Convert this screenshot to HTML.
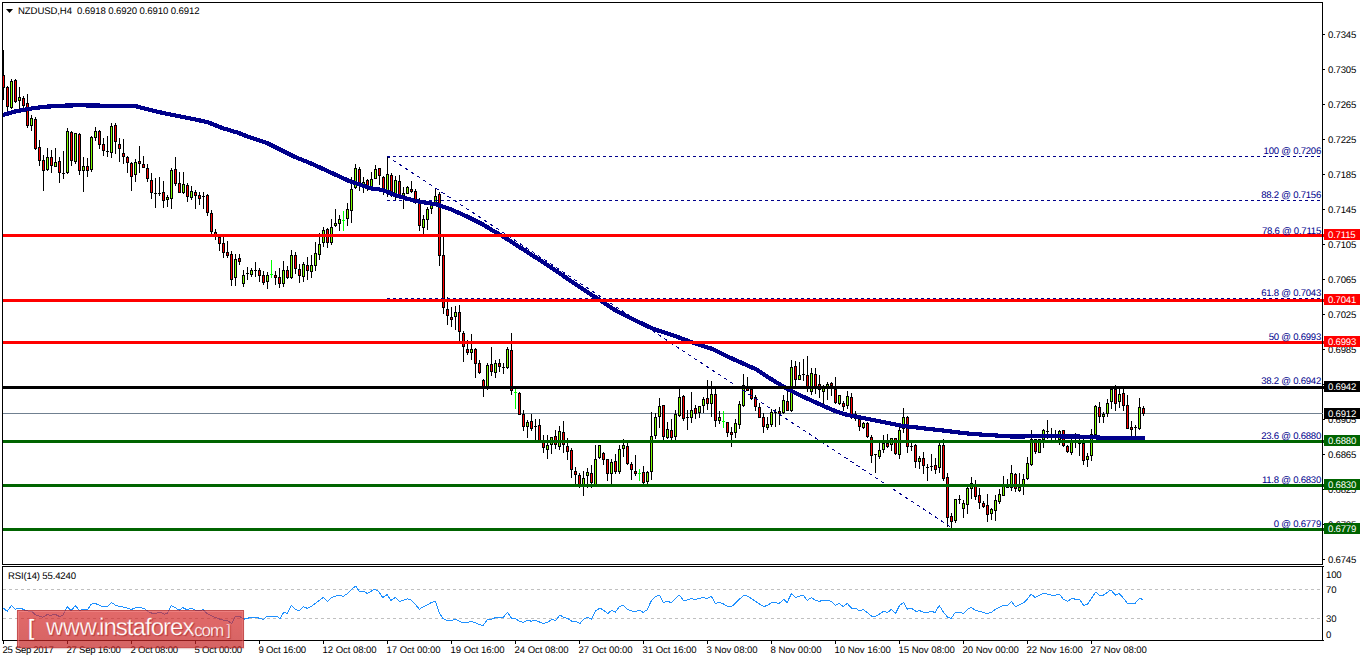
<!DOCTYPE html><html><head><meta charset="utf-8"><title>NZDUSD H4</title><style>
html,body{margin:0;padding:0;background:#fff}
body{width:1362px;height:661px;position:relative;overflow:hidden;font-family:"Liberation Sans",sans-serif;font-size:9.6px;color:#000;text-rendering:geometricPrecision}
svg{position:absolute;left:0;top:0}
.t{position:absolute;white-space:nowrap;line-height:10px;height:10px}
.ax{left:1328px;letter-spacing:-0.2px}
.fib{color:#00008b;right:41px;text-align:right;letter-spacing:-0.25px}
.tag{position:absolute;left:1324px;width:36px;height:11px;color:#fff}
.tag span{position:absolute;left:4px;top:2px;line-height:10px;letter-spacing:-0.2px}
.dt{top:646px;letter-spacing:-0.35px}
#wm{position:absolute;left:17px;top:610px;width:227px;height:38px;box-sizing:border-box;background:linear-gradient(rgba(214,42,42,.7),rgba(196,34,34,.7));border:1px solid rgba(150,30,30,.3);box-shadow:inset 1px 1px 0 rgba(255,170,170,.35),inset -1px 0 0 rgba(255,170,170,.2),0 1px 1px rgba(160,60,60,.25)}
#wm span{position:absolute;color:#fff;white-space:nowrap;text-shadow:1px 1px 1px rgba(150,20,25,.55);-webkit-text-stroke:0.3px #dd6868}

</style></head><body>
<svg width="1362" height="661" viewBox="0 0 1362 661" shape-rendering="crispEdges"><rect x="3" y="413" width="1319" height="1" fill="#708090"/><g fill="#000"><rect x="3" y="50" width="1" height="50"/><rect x="2" y="75" width="3" height="13"/><rect x="3" y="76" width="1" height="11" fill="#ff0000"/><rect x="7" y="86" width="1" height="30"/><rect x="6" y="87" width="3" height="20"/><rect x="7" y="88" width="1" height="18" fill="#ff0000"/><rect x="11" y="79" width="1" height="30"/><rect x="10" y="81" width="3" height="27"/><rect x="11" y="82" width="1" height="25" fill="#7fff00"/><rect x="15" y="79" width="1" height="24"/><rect x="14" y="80" width="3" height="22"/><rect x="15" y="81" width="1" height="20" fill="#ff0000"/><rect x="19" y="87" width="1" height="23"/><rect x="18" y="97" width="3" height="4"/><rect x="19" y="98" width="1" height="2" fill="#7fff00"/><rect x="23" y="96" width="1" height="12"/><rect x="22" y="98" width="3" height="8"/><rect x="23" y="99" width="1" height="6" fill="#ff0000"/><rect x="27" y="94" width="1" height="34"/><rect x="26" y="103" width="3" height="23"/><rect x="27" y="104" width="1" height="21" fill="#ff0000"/><rect x="31" y="115" width="1" height="16"/><rect x="30" y="118" width="3" height="8"/><rect x="31" y="119" width="1" height="6" fill="#7fff00"/><rect x="35" y="117" width="1" height="33"/><rect x="34" y="119" width="3" height="30"/><rect x="35" y="120" width="1" height="28" fill="#ff0000"/><rect x="39" y="140" width="1" height="26"/><rect x="38" y="147" width="3" height="14"/><rect x="39" y="148" width="1" height="12" fill="#ff0000"/><rect x="43" y="155" width="1" height="36"/><rect x="42" y="160" width="3" height="11"/><rect x="43" y="161" width="1" height="9" fill="#ff0000"/><rect x="47" y="148" width="1" height="23"/><rect x="46" y="157" width="3" height="13"/><rect x="47" y="158" width="1" height="11" fill="#7fff00"/><rect x="51" y="150" width="1" height="23"/><rect x="50" y="157" width="3" height="9"/><rect x="51" y="158" width="1" height="7" fill="#ff0000"/><rect x="55" y="148" width="1" height="19"/><rect x="54" y="162" width="3" height="5"/><rect x="55" y="163" width="1" height="3" fill="#7fff00"/><rect x="59" y="157" width="1" height="26"/><rect x="58" y="161" width="3" height="12"/><rect x="59" y="162" width="1" height="10" fill="#ff0000"/><rect x="63" y="151" width="1" height="28"/><rect x="62" y="173" width="3" height="1"/><rect x="67" y="128" width="1" height="46"/><rect x="66" y="131" width="3" height="42"/><rect x="67" y="132" width="1" height="40" fill="#7fff00"/><rect x="71" y="131" width="1" height="35"/><rect x="70" y="132" width="3" height="29"/><rect x="71" y="133" width="1" height="27" fill="#ff0000"/><rect x="75" y="133" width="1" height="31"/><rect x="74" y="133" width="3" height="29"/><rect x="75" y="134" width="1" height="27" fill="#7fff00"/><rect x="79" y="133" width="1" height="42"/><rect x="78" y="134" width="3" height="37"/><rect x="79" y="135" width="1" height="35" fill="#ff0000"/><rect x="83" y="157" width="1" height="35"/><rect x="82" y="166" width="3" height="5"/><rect x="83" y="167" width="1" height="3" fill="#7fff00"/><rect x="87" y="158" width="1" height="19"/><rect x="86" y="166" width="3" height="5"/><rect x="87" y="167" width="1" height="3" fill="#ff0000"/><rect x="91" y="136" width="1" height="36"/><rect x="90" y="137" width="3" height="33"/><rect x="91" y="138" width="1" height="31" fill="#7fff00"/><rect x="95" y="127" width="1" height="14"/><rect x="94" y="131" width="3" height="7"/><rect x="95" y="132" width="1" height="5" fill="#7fff00"/><rect x="99" y="130" width="1" height="19"/><rect x="98" y="131" width="3" height="14"/><rect x="99" y="132" width="1" height="12" fill="#ff0000"/><rect x="103" y="138" width="1" height="18"/><rect x="102" y="144" width="3" height="7"/><rect x="103" y="145" width="1" height="5" fill="#ff0000"/><rect x="107" y="136" width="1" height="21"/><rect x="106" y="151" width="3" height="1"/><rect x="111" y="123" width="1" height="35"/><rect x="110" y="126" width="3" height="27"/><rect x="111" y="127" width="1" height="25" fill="#7fff00"/><rect x="115" y="123" width="1" height="31"/><rect x="114" y="125" width="3" height="17"/><rect x="115" y="126" width="1" height="15" fill="#ff0000"/><rect x="119" y="138" width="1" height="24"/><rect x="118" y="144" width="3" height="5"/><rect x="119" y="145" width="1" height="3" fill="#ff0000"/><rect x="123" y="139" width="1" height="25"/><rect x="122" y="153" width="3" height="4"/><rect x="123" y="154" width="1" height="2" fill="#ff0000"/><rect x="127" y="156" width="1" height="17"/><rect x="126" y="157" width="3" height="6"/><rect x="127" y="158" width="1" height="4" fill="#ff0000"/><rect x="131" y="162" width="1" height="29"/><rect x="130" y="163" width="3" height="14"/><rect x="131" y="164" width="1" height="12" fill="#ff0000"/><rect x="135" y="159" width="1" height="23"/><rect x="134" y="162" width="3" height="13"/><rect x="135" y="163" width="1" height="11" fill="#7fff00"/><rect x="139" y="146" width="1" height="27"/><rect x="138" y="161" width="3" height="3"/><rect x="139" y="162" width="1" height="1" fill="#ff0000"/><rect x="143" y="156" width="1" height="12"/><rect x="142" y="164" width="3" height="4"/><rect x="143" y="165" width="1" height="2" fill="#ff0000"/><rect x="147" y="164" width="1" height="18"/><rect x="146" y="168" width="3" height="11"/><rect x="147" y="169" width="1" height="9" fill="#ff0000"/><rect x="151" y="173" width="1" height="26"/><rect x="150" y="180" width="3" height="13"/><rect x="151" y="181" width="1" height="11" fill="#ff0000"/><rect x="155" y="178" width="1" height="30"/><rect x="154" y="193" width="3" height="1"/><rect x="159" y="177" width="1" height="19"/><rect x="158" y="193" width="3" height="1"/><rect x="163" y="181" width="1" height="27"/><rect x="162" y="192" width="3" height="9"/><rect x="163" y="193" width="1" height="7" fill="#ff0000"/><rect x="167" y="195" width="1" height="12"/><rect x="166" y="197" width="3" height="3"/><rect x="167" y="198" width="1" height="1" fill="#7fff00"/><rect x="171" y="168" width="1" height="41"/><rect x="170" y="170" width="3" height="29"/><rect x="171" y="171" width="1" height="27" fill="#7fff00"/><rect x="175" y="157" width="1" height="29"/><rect x="174" y="169" width="3" height="15"/><rect x="175" y="170" width="1" height="13" fill="#ff0000"/><rect x="179" y="172" width="1" height="21"/><rect x="178" y="183" width="3" height="10"/><rect x="179" y="184" width="1" height="8" fill="#ff0000"/><rect x="183" y="172" width="1" height="22"/><rect x="182" y="184" width="3" height="9"/><rect x="183" y="185" width="1" height="7" fill="#7fff00"/><rect x="187" y="183" width="1" height="19"/><rect x="186" y="185" width="3" height="12"/><rect x="187" y="186" width="1" height="10" fill="#ff0000"/><rect x="191" y="186" width="1" height="14"/><rect x="190" y="191" width="3" height="7"/><rect x="191" y="192" width="1" height="5" fill="#7fff00"/><rect x="195" y="190" width="1" height="19"/><rect x="194" y="192" width="3" height="4"/><rect x="195" y="193" width="1" height="2" fill="#ff0000"/><rect x="199" y="192" width="1" height="13"/><rect x="198" y="195" width="3" height="4"/><rect x="199" y="196" width="1" height="2" fill="#ff0000"/><rect x="203" y="192" width="1" height="17"/><rect x="202" y="196" width="3" height="1"/><rect x="207" y="194" width="1" height="22"/><rect x="206" y="195" width="3" height="18"/><rect x="207" y="196" width="1" height="16" fill="#ff0000"/><rect x="211" y="210" width="1" height="24"/><rect x="210" y="213" width="3" height="19"/><rect x="211" y="214" width="1" height="17" fill="#ff0000"/><rect x="215" y="229" width="1" height="11"/><rect x="214" y="232" width="3" height="3"/><rect x="215" y="233" width="1" height="1" fill="#ff0000"/><rect x="219" y="234" width="1" height="17"/><rect x="218" y="237" width="3" height="7"/><rect x="219" y="238" width="1" height="5" fill="#ff0000"/><rect x="223" y="237" width="1" height="21"/><rect x="222" y="243" width="3" height="10"/><rect x="223" y="244" width="1" height="8" fill="#ff0000"/><rect x="227" y="241" width="1" height="17"/><rect x="226" y="252" width="3" height="4"/><rect x="227" y="253" width="1" height="2" fill="#ff0000"/><rect x="231" y="251" width="1" height="35"/><rect x="230" y="254" width="3" height="26"/><rect x="231" y="255" width="1" height="24" fill="#ff0000"/><rect x="235" y="254" width="1" height="32"/><rect x="234" y="259" width="3" height="19"/><rect x="235" y="260" width="1" height="17" fill="#7fff00"/><rect x="239" y="254" width="1" height="11"/><rect x="238" y="258" width="3" height="4"/><rect x="239" y="259" width="1" height="2" fill="#ff0000"/><rect x="243" y="270" width="1" height="17"/><rect x="242" y="275" width="3" height="9"/><rect x="243" y="276" width="1" height="7" fill="#7fff00"/><rect x="247" y="267" width="1" height="13"/><rect x="246" y="273" width="3" height="1"/><rect x="251" y="268" width="1" height="9"/><rect x="250" y="270" width="3" height="5"/><rect x="251" y="271" width="1" height="3" fill="#7fff00"/><rect x="255" y="262" width="1" height="15"/><rect x="254" y="270" width="3" height="1"/><rect x="259" y="268" width="1" height="14"/><rect x="258" y="270" width="3" height="6"/><rect x="259" y="271" width="1" height="4" fill="#ff0000"/><rect x="263" y="271" width="1" height="14"/><rect x="262" y="275" width="3" height="8"/><rect x="263" y="276" width="1" height="6" fill="#ff0000"/><rect x="267" y="272" width="1" height="17"/><rect x="266" y="275" width="3" height="7"/><rect x="267" y="276" width="1" height="5" fill="#7fff00"/><rect x="271" y="260" width="1" height="18" fill="#00ff00"/><rect x="270" y="274" width="3" height="1" fill="#00ff00"/><rect x="275" y="271" width="1" height="14"/><rect x="274" y="275" width="3" height="3"/><rect x="275" y="276" width="1" height="1" fill="#ff0000"/><rect x="279" y="268" width="1" height="20"/><rect x="278" y="277" width="3" height="7"/><rect x="279" y="278" width="1" height="5" fill="#ff0000"/><rect x="283" y="261" width="1" height="26"/><rect x="282" y="270" width="3" height="14"/><rect x="283" y="271" width="1" height="12" fill="#7fff00"/><rect x="287" y="266" width="1" height="13"/><rect x="286" y="270" width="3" height="8"/><rect x="287" y="271" width="1" height="6" fill="#ff0000"/><rect x="291" y="250" width="1" height="29"/><rect x="290" y="255" width="3" height="23"/><rect x="291" y="256" width="1" height="21" fill="#7fff00"/><rect x="295" y="252" width="1" height="22"/><rect x="294" y="255" width="3" height="14"/><rect x="295" y="256" width="1" height="12" fill="#ff0000"/><rect x="299" y="264" width="1" height="19"/><rect x="298" y="269" width="3" height="7"/><rect x="299" y="270" width="1" height="5" fill="#ff0000"/><rect x="303" y="262" width="1" height="20"/><rect x="302" y="264" width="3" height="13"/><rect x="303" y="265" width="1" height="11" fill="#7fff00"/><rect x="307" y="257" width="1" height="23"/><rect x="306" y="265" width="3" height="6"/><rect x="307" y="266" width="1" height="4" fill="#ff0000"/><rect x="311" y="255" width="1" height="23"/><rect x="310" y="265" width="3" height="7"/><rect x="311" y="266" width="1" height="5" fill="#7fff00"/><rect x="315" y="242" width="1" height="29"/><rect x="314" y="253" width="3" height="13"/><rect x="315" y="254" width="1" height="11" fill="#7fff00"/><rect x="319" y="233" width="1" height="27"/><rect x="318" y="244" width="3" height="11"/><rect x="319" y="245" width="1" height="9" fill="#7fff00"/><rect x="323" y="227" width="1" height="20"/><rect x="322" y="230" width="3" height="13"/><rect x="323" y="231" width="1" height="11" fill="#7fff00"/><rect x="327" y="228" width="1" height="20"/><rect x="326" y="229" width="3" height="14"/><rect x="327" y="230" width="1" height="12" fill="#ff0000"/><rect x="331" y="219" width="1" height="26"/><rect x="330" y="227" width="3" height="16"/><rect x="331" y="228" width="1" height="14" fill="#7fff00"/><rect x="335" y="209" width="1" height="18"/><rect x="334" y="223" width="3" height="3"/><rect x="335" y="224" width="1" height="1" fill="#7fff00"/><rect x="339" y="215" width="1" height="16"/><rect x="338" y="219" width="3" height="5"/><rect x="339" y="220" width="1" height="3" fill="#7fff00"/><rect x="343" y="211" width="1" height="20" fill="#00ff00"/><rect x="342" y="220" width="3" height="1" fill="#00ff00"/><rect x="347" y="203" width="1" height="23"/><rect x="346" y="209" width="3" height="10"/><rect x="347" y="210" width="1" height="8" fill="#7fff00"/><rect x="351" y="177" width="1" height="46"/><rect x="350" y="189" width="3" height="22"/><rect x="351" y="190" width="1" height="20" fill="#7fff00"/><rect x="355" y="164" width="1" height="25"/><rect x="354" y="168" width="3" height="20"/><rect x="355" y="169" width="1" height="18" fill="#7fff00"/><rect x="359" y="167" width="1" height="24"/><rect x="358" y="169" width="3" height="14"/><rect x="359" y="170" width="1" height="12" fill="#ff0000"/><rect x="363" y="177" width="1" height="16"/><rect x="362" y="182" width="3" height="5"/><rect x="363" y="183" width="1" height="3" fill="#7fff00"/><rect x="367" y="179" width="1" height="12"/><rect x="366" y="180" width="3" height="7"/><rect x="367" y="181" width="1" height="5" fill="#ff0000"/><rect x="371" y="172" width="1" height="15"/><rect x="370" y="179" width="3" height="8"/><rect x="371" y="180" width="1" height="6" fill="#7fff00"/><rect x="375" y="165" width="1" height="14"/><rect x="374" y="169" width="3" height="10"/><rect x="375" y="170" width="1" height="8" fill="#7fff00"/><rect x="379" y="168" width="1" height="17"/><rect x="378" y="168" width="3" height="8"/><rect x="379" y="169" width="1" height="6" fill="#ff0000"/><rect x="383" y="176" width="1" height="19"/><rect x="382" y="177" width="3" height="14"/><rect x="383" y="178" width="1" height="12" fill="#ff0000"/><rect x="387" y="157" width="1" height="40"/><rect x="386" y="174" width="3" height="17"/><rect x="387" y="175" width="1" height="15" fill="#7fff00"/><rect x="391" y="173" width="1" height="24"/><rect x="390" y="175" width="3" height="20"/><rect x="391" y="176" width="1" height="18" fill="#ff0000"/><rect x="395" y="176" width="1" height="24"/><rect x="394" y="180" width="3" height="14"/><rect x="395" y="181" width="1" height="12" fill="#7fff00"/><rect x="399" y="175" width="1" height="21"/><rect x="398" y="181" width="3" height="14"/><rect x="399" y="182" width="1" height="12" fill="#ff0000"/><rect x="403" y="187" width="1" height="22"/><rect x="402" y="193" width="3" height="3"/><rect x="403" y="194" width="1" height="1" fill="#7fff00"/><rect x="407" y="186" width="1" height="8"/><rect x="406" y="187" width="3" height="7"/><rect x="407" y="188" width="1" height="5" fill="#7fff00"/><rect x="411" y="181" width="1" height="12"/><rect x="410" y="189" width="3" height="3"/><rect x="411" y="190" width="1" height="1" fill="#ff0000"/><rect x="415" y="189" width="1" height="15"/><rect x="414" y="191" width="3" height="12"/><rect x="415" y="192" width="1" height="10" fill="#ff0000"/><rect x="419" y="198" width="1" height="33"/><rect x="418" y="200" width="3" height="26"/><rect x="419" y="201" width="1" height="24" fill="#ff0000"/><rect x="423" y="215" width="1" height="19"/><rect x="422" y="219" width="3" height="9"/><rect x="423" y="220" width="1" height="7" fill="#7fff00"/><rect x="427" y="207" width="1" height="23"/><rect x="426" y="209" width="3" height="11"/><rect x="427" y="210" width="1" height="9" fill="#7fff00"/><rect x="431" y="200" width="1" height="14"/><rect x="430" y="205" width="3" height="4"/><rect x="431" y="206" width="1" height="2" fill="#7fff00"/><rect x="435" y="189" width="1" height="16"/><rect x="434" y="196" width="3" height="7"/><rect x="435" y="197" width="1" height="5" fill="#7fff00"/><rect x="439" y="192" width="1" height="74"/><rect x="438" y="194" width="3" height="62"/><rect x="439" y="195" width="1" height="60" fill="#ff0000"/><rect x="443" y="237" width="1" height="77"/><rect x="442" y="255" width="3" height="53"/><rect x="443" y="256" width="1" height="51" fill="#ff0000"/><rect x="447" y="297" width="1" height="28"/><rect x="446" y="309" width="3" height="7"/><rect x="447" y="310" width="1" height="5" fill="#ff0000"/><rect x="451" y="307" width="1" height="20"/><rect x="450" y="317" width="3" height="3"/><rect x="451" y="318" width="1" height="1" fill="#ff0000"/><rect x="455" y="306" width="1" height="24"/><rect x="454" y="312" width="3" height="5"/><rect x="455" y="313" width="1" height="3" fill="#7fff00"/><rect x="459" y="305" width="1" height="36"/><rect x="458" y="312" width="3" height="20"/><rect x="459" y="313" width="1" height="18" fill="#ff0000"/><rect x="463" y="331" width="1" height="31"/><rect x="462" y="333" width="3" height="14"/><rect x="463" y="334" width="1" height="12" fill="#ff0000"/><rect x="467" y="340" width="1" height="15"/><rect x="466" y="349" width="3" height="4"/><rect x="467" y="350" width="1" height="2" fill="#ff0000"/><rect x="471" y="334" width="1" height="26"/><rect x="470" y="349" width="3" height="4"/><rect x="471" y="350" width="1" height="2" fill="#7fff00"/><rect x="475" y="348" width="1" height="30"/><rect x="474" y="349" width="3" height="15"/><rect x="475" y="350" width="1" height="13" fill="#ff0000"/><rect x="479" y="360" width="1" height="14"/><rect x="478" y="363" width="3" height="10"/><rect x="479" y="364" width="1" height="8" fill="#ff0000"/><rect x="483" y="379" width="1" height="18"/><rect x="482" y="380" width="3" height="8"/><rect x="483" y="381" width="1" height="6" fill="#ff0000"/><rect x="487" y="363" width="1" height="27"/><rect x="486" y="365" width="3" height="23"/><rect x="487" y="366" width="1" height="21" fill="#7fff00"/><rect x="491" y="347" width="1" height="29"/><rect x="490" y="364" width="3" height="8"/><rect x="491" y="365" width="1" height="6" fill="#ff0000"/><rect x="495" y="360" width="1" height="18"/><rect x="494" y="363" width="3" height="10"/><rect x="495" y="364" width="1" height="8" fill="#7fff00"/><rect x="499" y="359" width="1" height="13"/><rect x="498" y="363" width="3" height="4"/><rect x="499" y="364" width="1" height="2" fill="#ff0000"/><rect x="503" y="363" width="1" height="11"/><rect x="502" y="367" width="3" height="1"/><rect x="507" y="347" width="1" height="22"/><rect x="506" y="349" width="3" height="19"/><rect x="507" y="350" width="1" height="17" fill="#7fff00"/><rect x="511" y="333" width="1" height="62"/><rect x="510" y="350" width="3" height="41"/><rect x="511" y="351" width="1" height="39" fill="#ff0000"/><rect x="515" y="389" width="1" height="20" fill="#00ff00"/><rect x="514" y="392" width="3" height="1" fill="#00ff00"/><rect x="519" y="392" width="1" height="23"/><rect x="518" y="393" width="3" height="22"/><rect x="519" y="394" width="1" height="20" fill="#ff0000"/><rect x="523" y="410" width="1" height="21"/><rect x="522" y="414" width="3" height="13"/><rect x="523" y="415" width="1" height="11" fill="#ff0000"/><rect x="527" y="420" width="1" height="18"/><rect x="526" y="422" width="3" height="5"/><rect x="527" y="423" width="1" height="3" fill="#7fff00"/><rect x="531" y="414" width="1" height="17"/><rect x="530" y="421" width="3" height="8"/><rect x="531" y="422" width="1" height="6" fill="#ff0000"/><rect x="535" y="419" width="1" height="21"/><rect x="534" y="426" width="3" height="1"/><rect x="539" y="419" width="1" height="22"/><rect x="538" y="425" width="3" height="16"/><rect x="539" y="426" width="1" height="14" fill="#ff0000"/><rect x="543" y="435" width="1" height="18"/><rect x="542" y="440" width="3" height="8"/><rect x="543" y="441" width="1" height="6" fill="#ff0000"/><rect x="547" y="435" width="1" height="24"/><rect x="546" y="445" width="3" height="5"/><rect x="547" y="446" width="1" height="3" fill="#7fff00"/><rect x="551" y="437" width="1" height="17"/><rect x="550" y="437" width="3" height="8"/><rect x="551" y="438" width="1" height="6" fill="#7fff00"/><rect x="555" y="430" width="1" height="19"/><rect x="554" y="436" width="3" height="9"/><rect x="555" y="437" width="1" height="7" fill="#ff0000"/><rect x="559" y="426" width="1" height="24"/><rect x="558" y="431" width="3" height="16"/><rect x="559" y="432" width="1" height="14" fill="#7fff00"/><rect x="563" y="421" width="1" height="32"/><rect x="562" y="432" width="3" height="13"/><rect x="563" y="433" width="1" height="11" fill="#ff0000"/><rect x="567" y="438" width="1" height="22"/><rect x="566" y="446" width="3" height="6"/><rect x="567" y="447" width="1" height="4" fill="#ff0000"/><rect x="571" y="448" width="1" height="30"/><rect x="570" y="450" width="3" height="20"/><rect x="571" y="451" width="1" height="18" fill="#ff0000"/><rect x="575" y="467" width="1" height="17"/><rect x="574" y="471" width="3" height="4"/><rect x="575" y="472" width="1" height="2" fill="#ff0000"/><rect x="579" y="473" width="1" height="15"/><rect x="578" y="475" width="3" height="12"/><rect x="579" y="476" width="1" height="10" fill="#ff0000"/><rect x="583" y="471" width="1" height="25"/><rect x="582" y="478" width="3" height="8"/><rect x="583" y="479" width="1" height="6" fill="#7fff00"/><rect x="587" y="468" width="1" height="20"/><rect x="586" y="472" width="3" height="4"/><rect x="587" y="473" width="1" height="2" fill="#7fff00"/><rect x="591" y="465" width="1" height="23"/><rect x="590" y="473" width="3" height="10"/><rect x="591" y="474" width="1" height="8" fill="#ff0000"/><rect x="595" y="445" width="1" height="40"/><rect x="594" y="459" width="3" height="26"/><rect x="595" y="460" width="1" height="24" fill="#7fff00"/><rect x="599" y="445" width="1" height="14"/><rect x="598" y="445" width="3" height="13"/><rect x="599" y="446" width="1" height="11" fill="#7fff00"/><rect x="603" y="452" width="1" height="13"/><rect x="602" y="453" width="3" height="7"/><rect x="603" y="454" width="1" height="5" fill="#ff0000"/><rect x="607" y="459" width="1" height="22"/><rect x="606" y="459" width="3" height="15"/><rect x="607" y="460" width="1" height="13" fill="#ff0000"/><rect x="611" y="459" width="1" height="25"/><rect x="610" y="462" width="3" height="12"/><rect x="611" y="463" width="1" height="10" fill="#7fff00"/><rect x="615" y="454" width="1" height="20"/><rect x="614" y="461" width="3" height="11"/><rect x="615" y="462" width="1" height="9" fill="#ff0000"/><rect x="619" y="445" width="1" height="29"/><rect x="618" y="449" width="3" height="23"/><rect x="619" y="450" width="1" height="21" fill="#7fff00"/><rect x="623" y="439" width="1" height="18"/><rect x="622" y="445" width="3" height="4"/><rect x="623" y="446" width="1" height="2" fill="#7fff00"/><rect x="627" y="443" width="1" height="22"/><rect x="626" y="446" width="3" height="18"/><rect x="627" y="447" width="1" height="16" fill="#ff0000"/><rect x="631" y="462" width="1" height="18"/><rect x="630" y="464" width="3" height="6"/><rect x="631" y="465" width="1" height="4" fill="#ff0000"/><rect x="635" y="455" width="1" height="21"/><rect x="634" y="471" width="3" height="3"/><rect x="635" y="472" width="1" height="1" fill="#ff0000"/><rect x="639" y="469" width="1" height="12" fill="#00ff00"/><rect x="638" y="473" width="3" height="1" fill="#00ff00"/><rect x="643" y="466" width="1" height="18"/><rect x="642" y="472" width="3" height="11"/><rect x="643" y="473" width="1" height="9" fill="#ff0000"/><rect x="647" y="471" width="1" height="13"/><rect x="646" y="472" width="3" height="10"/><rect x="647" y="473" width="1" height="8" fill="#7fff00"/><rect x="651" y="412" width="1" height="68"/><rect x="650" y="436" width="3" height="36"/><rect x="651" y="437" width="1" height="34" fill="#7fff00"/><rect x="655" y="413" width="1" height="26"/><rect x="654" y="417" width="3" height="19"/><rect x="655" y="418" width="1" height="17" fill="#7fff00"/><rect x="659" y="398" width="1" height="30"/><rect x="658" y="406" width="3" height="11"/><rect x="659" y="407" width="1" height="9" fill="#7fff00"/><rect x="663" y="405" width="1" height="35"/><rect x="662" y="405" width="3" height="32"/><rect x="663" y="406" width="1" height="30" fill="#ff0000"/><rect x="667" y="422" width="1" height="17"/><rect x="666" y="429" width="3" height="9"/><rect x="667" y="430" width="1" height="7" fill="#7fff00"/><rect x="671" y="419" width="1" height="21"/><rect x="670" y="430" width="3" height="8"/><rect x="671" y="431" width="1" height="6" fill="#ff0000"/><rect x="675" y="410" width="1" height="30"/><rect x="674" y="414" width="3" height="23"/><rect x="675" y="415" width="1" height="21" fill="#7fff00"/><rect x="679" y="389" width="1" height="28"/><rect x="678" y="397" width="3" height="19"/><rect x="679" y="398" width="1" height="17" fill="#7fff00"/><rect x="683" y="395" width="1" height="26"/><rect x="682" y="396" width="3" height="23"/><rect x="683" y="397" width="1" height="21" fill="#ff0000"/><rect x="687" y="410" width="1" height="20"/><rect x="686" y="417" width="3" height="1"/><rect x="691" y="392" width="1" height="31"/><rect x="690" y="410" width="3" height="8"/><rect x="691" y="411" width="1" height="6" fill="#7fff00"/><rect x="695" y="405" width="1" height="14"/><rect x="694" y="408" width="3" height="6"/><rect x="695" y="409" width="1" height="4" fill="#ff0000"/><rect x="699" y="406" width="1" height="12"/><rect x="698" y="406" width="3" height="7"/><rect x="699" y="407" width="1" height="5" fill="#7fff00"/><rect x="703" y="397" width="1" height="16"/><rect x="702" y="399" width="3" height="7"/><rect x="703" y="400" width="1" height="5" fill="#7fff00"/><rect x="707" y="380" width="1" height="30"/><rect x="706" y="398" width="3" height="6"/><rect x="707" y="399" width="1" height="4" fill="#ff0000"/><rect x="711" y="381" width="1" height="36"/><rect x="710" y="394" width="3" height="10"/><rect x="711" y="395" width="1" height="8" fill="#7fff00"/><rect x="715" y="389" width="1" height="38"/><rect x="714" y="394" width="3" height="27"/><rect x="715" y="395" width="1" height="25" fill="#ff0000"/><rect x="719" y="411" width="1" height="13"/><rect x="718" y="417" width="3" height="4"/><rect x="719" y="418" width="1" height="2" fill="#7fff00"/><rect x="723" y="411" width="1" height="17" fill="#00ff00"/><rect x="722" y="421" width="3" height="1" fill="#00ff00"/><rect x="727" y="422" width="1" height="15"/><rect x="726" y="422" width="3" height="11"/><rect x="727" y="423" width="1" height="9" fill="#ff0000"/><rect x="731" y="427" width="1" height="20"/><rect x="730" y="432" width="3" height="3"/><rect x="731" y="433" width="1" height="1" fill="#ff0000"/><rect x="735" y="419" width="1" height="19"/><rect x="734" y="423" width="3" height="10"/><rect x="735" y="424" width="1" height="8" fill="#7fff00"/><rect x="739" y="401" width="1" height="28"/><rect x="738" y="404" width="3" height="21"/><rect x="739" y="405" width="1" height="19" fill="#7fff00"/><rect x="743" y="374" width="1" height="33"/><rect x="742" y="385" width="3" height="21"/><rect x="743" y="386" width="1" height="19" fill="#7fff00"/><rect x="747" y="377" width="1" height="14"/><rect x="746" y="386" width="3" height="5"/><rect x="747" y="387" width="1" height="3" fill="#ff0000"/><rect x="751" y="389" width="1" height="11"/><rect x="750" y="389" width="3" height="10"/><rect x="751" y="390" width="1" height="8" fill="#ff0000"/><rect x="755" y="395" width="1" height="16"/><rect x="754" y="397" width="3" height="10"/><rect x="755" y="398" width="1" height="8" fill="#ff0000"/><rect x="759" y="403" width="1" height="15"/><rect x="758" y="407" width="3" height="11"/><rect x="759" y="408" width="1" height="9" fill="#ff0000"/><rect x="763" y="413" width="1" height="20"/><rect x="762" y="417" width="3" height="10"/><rect x="763" y="418" width="1" height="8" fill="#ff0000"/><rect x="767" y="417" width="1" height="13"/><rect x="766" y="424" width="3" height="4"/><rect x="767" y="425" width="1" height="2" fill="#7fff00"/><rect x="771" y="409" width="1" height="18"/><rect x="770" y="412" width="3" height="13"/><rect x="771" y="413" width="1" height="11" fill="#7fff00"/><rect x="775" y="409" width="1" height="18"/><rect x="774" y="412" width="3" height="1"/><rect x="779" y="407" width="1" height="18"/><rect x="778" y="411" width="3" height="3"/><rect x="779" y="412" width="1" height="1" fill="#ff0000"/><rect x="783" y="395" width="1" height="19"/><rect x="782" y="400" width="3" height="13"/><rect x="783" y="401" width="1" height="11" fill="#7fff00"/><rect x="787" y="390" width="1" height="21"/><rect x="786" y="401" width="3" height="10"/><rect x="787" y="402" width="1" height="8" fill="#ff0000"/><rect x="791" y="360" width="1" height="52"/><rect x="790" y="367" width="3" height="44"/><rect x="791" y="368" width="1" height="42" fill="#7fff00"/><rect x="795" y="361" width="1" height="25"/><rect x="794" y="366" width="3" height="14"/><rect x="795" y="367" width="1" height="12" fill="#ff0000"/><rect x="799" y="362" width="1" height="18"/><rect x="798" y="375" width="3" height="5"/><rect x="799" y="376" width="1" height="3" fill="#7fff00"/><rect x="803" y="359" width="1" height="22"/><rect x="802" y="374" width="3" height="1"/><rect x="807" y="356" width="1" height="36"/><rect x="806" y="375" width="3" height="14"/><rect x="807" y="376" width="1" height="12" fill="#ff0000"/><rect x="811" y="368" width="1" height="27"/><rect x="810" y="373" width="3" height="19"/><rect x="811" y="374" width="1" height="17" fill="#7fff00"/><rect x="815" y="368" width="1" height="26"/><rect x="814" y="374" width="3" height="13"/><rect x="815" y="375" width="1" height="11" fill="#ff0000"/><rect x="819" y="375" width="1" height="23"/><rect x="818" y="384" width="3" height="6"/><rect x="819" y="385" width="1" height="4" fill="#ff0000"/><rect x="823" y="385" width="1" height="19"/><rect x="822" y="386" width="3" height="6"/><rect x="823" y="387" width="1" height="4" fill="#7fff00"/><rect x="827" y="382" width="1" height="18"/><rect x="826" y="384" width="3" height="3"/><rect x="827" y="385" width="1" height="1" fill="#7fff00"/><rect x="831" y="382" width="1" height="14"/><rect x="830" y="383" width="3" height="3"/><rect x="831" y="384" width="1" height="1" fill="#ff0000"/><rect x="835" y="377" width="1" height="27"/><rect x="834" y="389" width="3" height="14"/><rect x="835" y="390" width="1" height="12" fill="#ff0000"/><rect x="839" y="395" width="1" height="10"/><rect x="838" y="395" width="3" height="9"/><rect x="839" y="396" width="1" height="7" fill="#7fff00"/><rect x="843" y="401" width="1" height="10"/><rect x="842" y="403" width="3" height="4"/><rect x="843" y="404" width="1" height="2" fill="#ff0000"/><rect x="847" y="391" width="1" height="18"/><rect x="846" y="396" width="3" height="10"/><rect x="847" y="397" width="1" height="8" fill="#7fff00"/><rect x="851" y="393" width="1" height="26"/><rect x="850" y="397" width="3" height="21"/><rect x="851" y="398" width="1" height="19" fill="#ff0000"/><rect x="855" y="411" width="1" height="10"/><rect x="854" y="414" width="3" height="5"/><rect x="855" y="415" width="1" height="3" fill="#ff0000"/><rect x="859" y="419" width="1" height="12"/><rect x="858" y="419" width="3" height="8"/><rect x="859" y="420" width="1" height="6" fill="#ff0000"/><rect x="863" y="422" width="1" height="7"/><rect x="862" y="423" width="3" height="5"/><rect x="863" y="424" width="1" height="3" fill="#7fff00"/><rect x="867" y="422" width="1" height="16"/><rect x="866" y="423" width="3" height="14"/><rect x="867" y="424" width="1" height="12" fill="#ff0000"/><rect x="871" y="435" width="1" height="28"/><rect x="870" y="437" width="3" height="19"/><rect x="871" y="438" width="1" height="17" fill="#ff0000"/><rect x="875" y="454" width="1" height="19"/><rect x="874" y="454" width="3" height="1"/><rect x="879" y="443" width="1" height="16"/><rect x="878" y="450" width="3" height="7"/><rect x="879" y="451" width="1" height="5" fill="#7fff00"/><rect x="883" y="435" width="1" height="18"/><rect x="882" y="443" width="3" height="7"/><rect x="883" y="444" width="1" height="5" fill="#7fff00"/><rect x="887" y="434" width="1" height="14"/><rect x="886" y="443" width="3" height="4"/><rect x="887" y="444" width="1" height="2" fill="#ff0000"/><rect x="891" y="438" width="1" height="13"/><rect x="890" y="438" width="3" height="7"/><rect x="891" y="439" width="1" height="5" fill="#7fff00"/><rect x="895" y="438" width="1" height="17"/><rect x="894" y="438" width="3" height="16"/><rect x="895" y="439" width="1" height="14" fill="#ff0000"/><rect x="899" y="427" width="1" height="32"/><rect x="898" y="430" width="3" height="25"/><rect x="899" y="431" width="1" height="23" fill="#7fff00"/><rect x="903" y="408" width="1" height="25"/><rect x="902" y="417" width="3" height="12"/><rect x="903" y="418" width="1" height="10" fill="#7fff00"/><rect x="907" y="416" width="1" height="37"/><rect x="906" y="417" width="3" height="30"/><rect x="907" y="418" width="1" height="28" fill="#ff0000"/><rect x="911" y="443" width="1" height="8"/><rect x="910" y="446" width="3" height="1"/><rect x="915" y="444" width="1" height="24"/><rect x="914" y="445" width="3" height="17"/><rect x="915" y="446" width="1" height="15" fill="#ff0000"/><rect x="919" y="456" width="1" height="13"/><rect x="918" y="458" width="3" height="4"/><rect x="919" y="459" width="1" height="2" fill="#7fff00"/><rect x="923" y="452" width="1" height="22"/><rect x="922" y="458" width="3" height="8"/><rect x="923" y="459" width="1" height="6" fill="#ff0000"/><rect x="927" y="464" width="1" height="17"/><rect x="926" y="467" width="3" height="1"/><rect x="931" y="454" width="1" height="17"/><rect x="930" y="466" width="3" height="1"/><rect x="935" y="458" width="1" height="16"/><rect x="934" y="465" width="3" height="5"/><rect x="935" y="466" width="1" height="3" fill="#ff0000"/><rect x="939" y="443" width="1" height="30"/><rect x="938" y="445" width="3" height="23"/><rect x="939" y="446" width="1" height="21" fill="#7fff00"/><rect x="943" y="439" width="1" height="42"/><rect x="942" y="445" width="3" height="34"/><rect x="943" y="446" width="1" height="32" fill="#ff0000"/><rect x="947" y="473" width="1" height="54"/><rect x="946" y="477" width="3" height="41"/><rect x="947" y="478" width="1" height="39" fill="#ff0000"/><rect x="951" y="513" width="1" height="15"/><rect x="950" y="516" width="3" height="6"/><rect x="951" y="517" width="1" height="4" fill="#ff0000"/><rect x="955" y="499" width="1" height="24"/><rect x="954" y="499" width="3" height="22"/><rect x="955" y="500" width="1" height="20" fill="#7fff00"/><rect x="959" y="495" width="1" height="9"/><rect x="958" y="499" width="3" height="1"/><rect x="963" y="500" width="1" height="18"/><rect x="962" y="503" width="3" height="6"/><rect x="963" y="504" width="1" height="4" fill="#7fff00"/><rect x="967" y="487" width="1" height="27"/><rect x="966" y="488" width="3" height="17"/><rect x="967" y="489" width="1" height="15" fill="#7fff00"/><rect x="971" y="477" width="1" height="22"/><rect x="970" y="483" width="3" height="6"/><rect x="971" y="484" width="1" height="4" fill="#7fff00"/><rect x="975" y="480" width="1" height="20"/><rect x="974" y="484" width="3" height="13"/><rect x="975" y="485" width="1" height="11" fill="#ff0000"/><rect x="979" y="488" width="1" height="21"/><rect x="978" y="495" width="3" height="8"/><rect x="979" y="496" width="1" height="6" fill="#ff0000"/><rect x="983" y="501" width="1" height="7"/><rect x="982" y="503" width="3" height="4"/><rect x="983" y="504" width="1" height="2" fill="#ff0000"/><rect x="987" y="494" width="1" height="28"/><rect x="986" y="505" width="3" height="10"/><rect x="987" y="506" width="1" height="8" fill="#ff0000"/><rect x="991" y="508" width="1" height="12"/><rect x="990" y="509" width="3" height="5"/><rect x="991" y="510" width="1" height="3" fill="#7fff00"/><rect x="995" y="495" width="1" height="26"/><rect x="994" y="500" width="3" height="11"/><rect x="995" y="501" width="1" height="9" fill="#7fff00"/><rect x="999" y="489" width="1" height="15"/><rect x="998" y="494" width="3" height="8"/><rect x="999" y="495" width="1" height="6" fill="#7fff00"/><rect x="1003" y="476" width="1" height="20"/><rect x="1002" y="484" width="3" height="12"/><rect x="1003" y="485" width="1" height="10" fill="#7fff00"/><rect x="1007" y="479" width="1" height="9"/><rect x="1006" y="487" width="3" height="1"/><rect x="1011" y="465" width="1" height="26"/><rect x="1010" y="473" width="3" height="15"/><rect x="1011" y="474" width="1" height="13" fill="#7fff00"/><rect x="1015" y="473" width="1" height="19"/><rect x="1014" y="474" width="3" height="15"/><rect x="1015" y="475" width="1" height="13" fill="#ff0000"/><rect x="1019" y="473" width="1" height="19"/><rect x="1018" y="487" width="3" height="4"/><rect x="1019" y="488" width="1" height="2" fill="#7fff00"/><rect x="1023" y="474" width="1" height="21"/><rect x="1022" y="479" width="3" height="8"/><rect x="1023" y="480" width="1" height="6" fill="#7fff00"/><rect x="1027" y="457" width="1" height="23"/><rect x="1026" y="463" width="3" height="16"/><rect x="1027" y="464" width="1" height="14" fill="#7fff00"/><rect x="1031" y="430" width="1" height="36"/><rect x="1030" y="439" width="3" height="26"/><rect x="1031" y="440" width="1" height="24" fill="#7fff00"/><rect x="1035" y="439" width="1" height="15"/><rect x="1034" y="439" width="3" height="13"/><rect x="1035" y="440" width="1" height="11" fill="#ff0000"/><rect x="1039" y="439" width="1" height="14"/><rect x="1038" y="439" width="3" height="14"/><rect x="1039" y="440" width="1" height="12" fill="#7fff00"/><rect x="1043" y="429" width="1" height="19"/><rect x="1042" y="430" width="3" height="10"/><rect x="1043" y="431" width="1" height="8" fill="#7fff00"/><rect x="1047" y="420" width="1" height="19"/><rect x="1046" y="431" width="3" height="1"/><rect x="1051" y="428" width="1" height="12"/><rect x="1050" y="434" width="3" height="1"/><rect x="1055" y="430" width="1" height="10"/><rect x="1054" y="436" width="3" height="1"/><rect x="1059" y="430" width="1" height="15"/><rect x="1058" y="431" width="3" height="9"/><rect x="1059" y="432" width="1" height="7" fill="#7fff00"/><rect x="1063" y="430" width="1" height="17"/><rect x="1062" y="430" width="3" height="16"/><rect x="1063" y="431" width="1" height="14" fill="#ff0000"/><rect x="1067" y="445" width="1" height="8"/><rect x="1066" y="446" width="3" height="6"/><rect x="1067" y="447" width="1" height="4" fill="#ff0000"/><rect x="1071" y="437" width="1" height="18"/><rect x="1070" y="442" width="3" height="11"/><rect x="1071" y="443" width="1" height="9" fill="#7fff00"/><rect x="1075" y="433" width="1" height="15"/><rect x="1074" y="440" width="3" height="1"/><rect x="1079" y="437" width="1" height="19"/><rect x="1078" y="443" width="3" height="1"/><rect x="1083" y="437" width="1" height="28"/><rect x="1082" y="443" width="3" height="18"/><rect x="1083" y="444" width="1" height="16" fill="#ff0000"/><rect x="1087" y="453" width="1" height="14"/><rect x="1086" y="456" width="3" height="4"/><rect x="1087" y="457" width="1" height="2" fill="#7fff00"/><rect x="1091" y="429" width="1" height="32"/><rect x="1090" y="434" width="3" height="22"/><rect x="1091" y="435" width="1" height="20" fill="#7fff00"/><rect x="1095" y="405" width="1" height="30"/><rect x="1094" y="406" width="3" height="29"/><rect x="1095" y="407" width="1" height="27" fill="#7fff00"/><rect x="1099" y="402" width="1" height="21"/><rect x="1098" y="407" width="3" height="10"/><rect x="1099" y="408" width="1" height="8" fill="#ff0000"/><rect x="1103" y="412" width="1" height="11"/><rect x="1102" y="414" width="3" height="3"/><rect x="1103" y="415" width="1" height="1" fill="#7fff00"/><rect x="1107" y="399" width="1" height="18"/><rect x="1106" y="403" width="3" height="11"/><rect x="1107" y="404" width="1" height="9" fill="#7fff00"/><rect x="1111" y="389" width="1" height="20"/><rect x="1110" y="389" width="3" height="13"/><rect x="1111" y="390" width="1" height="11" fill="#7fff00"/><rect x="1115" y="385" width="1" height="26"/><rect x="1114" y="389" width="3" height="15"/><rect x="1115" y="390" width="1" height="13" fill="#ff0000"/><rect x="1119" y="389" width="1" height="19"/><rect x="1118" y="394" width="3" height="8"/><rect x="1119" y="395" width="1" height="6" fill="#7fff00"/><rect x="1123" y="389" width="1" height="22"/><rect x="1122" y="393" width="3" height="13"/><rect x="1123" y="394" width="1" height="11" fill="#ff0000"/><rect x="1127" y="395" width="1" height="34"/><rect x="1126" y="405" width="3" height="24"/><rect x="1127" y="406" width="1" height="22" fill="#ff0000"/><rect x="1131" y="421" width="1" height="16"/><rect x="1130" y="427" width="3" height="3"/><rect x="1131" y="428" width="1" height="1" fill="#ff0000"/><rect x="1135" y="425" width="1" height="12"/><rect x="1134" y="427" width="3" height="1"/><rect x="1139" y="398" width="1" height="32"/><rect x="1138" y="407" width="3" height="22"/><rect x="1139" y="408" width="1" height="20" fill="#7fff00"/><rect x="1143" y="406" width="1" height="10"/><rect x="1142" y="408" width="3" height="6"/><rect x="1143" y="409" width="1" height="4" fill="#ff0000"/></g><clipPath id="cp"><rect x="3" y="3" width="1142.5" height="561"/></clipPath><polyline clip-path="url(#cp)" points="2.0,115.2 3.0,114.9 15.0,111.5 30.0,108.7 44.0,106.8 64.6,105.6 78.0,105.3 100.0,105.6 120.0,105.9 134.7,105.9 149.4,109.8 164.0,113.2 178.7,116.1 193.4,119.1 208.1,122.3 222.8,128.2 237.5,132.6 252.2,138.2 266.8,142.9 281.5,150.2 296.2,157.5 310.9,163.4 320.0,167.5 349.4,181.1 371.4,188.5 379.0,189.3 386.0,191.2 393.4,194.6 415.4,201.0 437.5,204.6 452.0,209.8 466.8,216.4 481.5,223.7 496.0,232.5 501.3,235.3 546.8,264.6 580.0,287.2 599.1,299.7 616.7,311.1 638.7,322.0 653.4,329.0 675.4,336.1 691.6,342.3 712.2,348.9 726.8,356.2 741.5,362.8 756.2,369.4 772.2,379.8 786.8,388.6 801.5,396.0 816.2,402.6 825.0,406.7 836.0,411.4 847.0,414.8 858.1,417.0 869.0,419.2 880.1,421.4 902.2,425.8 924.2,428.4 946.2,430.9 970.0,433.8 990.0,435.1 1012.0,436.5 1041.4,436.3 1078.1,436.5 1107.5,438.0 1145.0,438.0" fill="none" stroke="#00008b" stroke-width="4.2" stroke-linejoin="round"/><path d="M387.5 156.5L951.5 527.5" stroke="#00008b" stroke-width="1" stroke-dasharray="3.6,3.6" fill="none"/><rect x="3" y="234" width="1321" height="3" fill="#ff0000"/><rect x="3" y="299" width="1321" height="3" fill="#ff0000"/><rect x="3" y="341" width="1321" height="3" fill="#ff0000"/><rect x="3" y="386" width="1321" height="3" fill="#000000"/><rect x="3" y="440" width="1321" height="3" fill="#006400"/><rect x="3" y="484" width="1321" height="3" fill="#006400"/><rect x="3" y="528" width="1321" height="3" fill="#006400"/><path d="M387 156.5H1321" stroke="#00008b" stroke-width="1" stroke-dasharray="3,3" fill="none"/><path d="M387 200.5H1321" stroke="#00008b" stroke-width="1" stroke-dasharray="3,3" fill="none"/><path d="M387 298.5H1321" stroke="#00008b" stroke-width="1" stroke-dasharray="3,3" fill="none"/><path d="M3 589.5H1322M3 618.5H1322" stroke="#c0c0c0" stroke-width="1" stroke-dasharray="3,3" fill="none"/><polyline points="2.9,607.8 7.3,611.3 11.5,605.6 15.4,609.2 17.3,608.1 21.3,608.3 25.7,610.7 29.4,611.3 31.6,611.3 35.2,614.7 38.9,616.1 42.6,617.2 47.0,614.7 50.7,615.4 55.1,614.2 59.5,616.6 63.1,615.1 67.3,606.6 71.2,610.7 75.2,605.6 79.3,610.3 83.0,609.5 87.4,609.8 91.0,604.4 94.7,603.2 99.1,605.1 102.8,606.6 107.2,606.6 111.6,602.5 116.0,605.6 119.7,606.3 124.1,607.3 127.8,608.1 131.4,609.5 135.8,607.6 140.2,607.6 144.6,608.8 148.3,611.7 152.0,613.2 156.4,613.2 160.1,612.2 164.5,614.2 167.4,613.2 171.1,605.6 174.7,607.3 179.1,610.3 182.8,607.6 187.2,609.8 190.9,608.1 195.3,610.3 200.0,610.7 202.9,609.5 206.6,613.2 211.0,615.7 215.4,617.6 219.8,619.1 223.5,620.1 227.9,621.0 231.6,623.5 235.2,616.6 238.9,616.1 244.1,619.1 248.5,618.0 252.9,617.2 257.3,617.6 263.1,619.5 267.5,616.1 272.0,616.1 276.4,616.1 280.0,618.6 283.7,612.2 287.4,613.6 291.3,605.6 295.4,609.2 299.1,610.7 303.5,606.6 307.2,608.3 311.6,606.3 316.0,602.9 319.7,600.0 323.3,597.5 327.5,601.4 331.4,597.8 335.1,596.3 338.8,595.3 343.2,596.3 346.8,594.1 351.2,589.7 355.7,586.0 359.3,591.2 363.7,591.5 367.4,593.4 371.1,591.2 374.7,589.3 378.4,591.2 382.8,597.5 387.2,594.5 390.9,600.4 395.3,597.5 400.0,601.6 403.7,600.0 407.3,598.9 411.0,600.0 415.4,604.4 419.4,609.2 423.5,606.6 427.9,604.4 431.6,602.5 435.2,601.0 438.9,611.7 442.6,618.3 447.0,620.5 451.4,620.5 455.1,619.1 459.5,621.3 463.1,622.7 467.5,622.4 471.2,621.3 475.6,622.7 479.3,624.5 483.0,625.4 487.4,619.8 491.0,619.5 495.4,617.6 499.9,617.6 503.5,617.2 507.5,612.2 511.6,618.3 515.3,618.6 519.7,621.3 523.3,622.4 527.5,620.1 531.4,621.3 535.1,620.1 539.5,622.0 543.2,623.5 547.6,622.4 552.0,619.1 555.7,620.5 559.8,615.1 563.7,617.2 567.4,618.3 571.8,621.3 575.5,621.3 579.9,623.5 583.6,619.1 587.2,617.2 591.6,619.1 595.3,611.0 600.0,608.0 603.7,610.3 607.6,613.6 611.7,610.3 615.4,612.2 619.4,606.6 623.2,605.4 627.2,609.2 631.1,610.7 635.2,611.7 639.4,610.3 643.3,612.5 647.0,609.8 651.4,600.7 655.1,597.0 659.5,595.1 663.4,602.5 667.5,601.4 671.2,602.5 675.6,598.5 679.3,595.1 683.4,600.4 687.4,600.0 691.0,598.5 695.4,599.5 699.1,598.5 703.5,597.5 707.2,598.5 711.3,596.3 715.3,603.4 719.7,602.5 723.3,603.9 727.8,606.6 731.4,606.6 735.1,603.6 739.5,599.2 743.9,595.1 747.6,596.3 752.0,598.9 755.7,601.4 760.1,604.4 763.7,606.6 767.4,605.4 771.8,602.5 775.5,602.5 779.1,603.6 783.6,599.2 787.2,602.5 791.3,593.7 795.6,597.5 800.0,596.0 803.2,595.1 807.3,600.4 811.5,597.5 815.4,600.4 819.4,601.4 823.5,600.0 827.2,600.0 831.1,601.4 835.2,605.4 838.9,603.4 843.3,606.6 847.3,603.4 851.4,608.1 855.5,608.3 859.5,610.7 863.4,609.5 867.5,612.8 871.7,616.1 875.6,616.1 879.3,614.2 883.7,611.3 887.4,612.5 891.3,609.5 895.4,613.6 899.6,605.4 903.5,602.5 907.5,609.2 911.3,608.1 916.0,611.3 919.7,610.7 924.1,612.5 927.8,612.5 931.4,611.3 935.1,612.5 939.2,605.4 943.2,611.7 947.6,617.2 951.2,618.6 955.4,612.2 959.3,612.2 963.3,613.6 967.4,609.5 971.1,607.3 975.5,610.3 979.1,611.3 983.6,612.5 987.2,613.6 991.6,612.2 996.0,608.8 1000.0,607.0 1003.7,605.4 1007.3,605.4 1011.5,601.4 1015.4,606.6 1019.4,604.8 1023.5,602.9 1027.2,599.2 1031.1,594.1 1035.2,597.5 1039.4,595.1 1043.3,593.4 1047.3,594.1 1051.4,595.1 1055.5,595.1 1059.5,594.1 1063.4,599.2 1067.5,601.4 1071.7,598.5 1075.6,599.2 1079.6,599.5 1083.7,605.4 1087.8,603.9 1091.8,597.8 1095.7,592.2 1099.9,595.6 1103.5,595.1 1107.5,592.2 1110.9,590.0 1115.3,595.1 1119.2,593.4 1123.3,598.1 1127.5,603.4 1131.4,603.4 1135.1,603.4 1139.5,598.1 1142.7,599.5" fill="none" stroke="#1e90ff" stroke-width="1" stroke-linejoin="round"/><path d="M2.5 2.5H1322.5V564.5H2.5ZM2.5 566.5H1322.5V640.5H2.5Z" fill="none" stroke="#000" stroke-width="1"/><path d="M1323 34.5h2M1323 69.5h2M1323 104.5h2M1323 139.5h2M1323 174.5h2M1323 209.5h2M1323 244.5h2M1323 279.5h2M1323 314.5h2M1323 349.5h2M1323 384.5h2M1323 419.5h2M1323 454.5h2M1323 489.5h2M1323 524.5h2M1323 559.5h2M1323 566.5h1M1323 640.5h1M3.5 641v3M67.5 641v3M131.5 641v3M195.5 641v3M259.5 641v3M323.5 641v3M387.5 641v3M451.5 641v3M515.5 641v3M579.5 641v3M643.5 641v3M707.5 641v3M771.5 641v3M835.5 641v3M899.5 641v3M963.5 641v3M1027.5 641v3M1091.5 641v3" stroke="#000" stroke-width="1" fill="none"/><rect x="1322" y="413" width="1" height="1" fill="#708090"/><path d="M6 9h7l-3.5 4z" fill="#000" shape-rendering="auto"/></svg>
<div class="t" style="left:18px;top:7px;letter-spacing:-0.11px" id="title">NZDUSD,H4&nbsp; 0.6918 0.6920 0.6910 0.6912</div>
<div class="t" style="left:8px;top:572px;letter-spacing:-0.17px" id="rsil">RSI(14) 55.4240</div>
<div class="t ax" style="top:31px">0.7345</div>
<div class="t ax" style="top:66px">0.7305</div>
<div class="t ax" style="top:101px">0.7265</div>
<div class="t ax" style="top:136px">0.7225</div>
<div class="t ax" style="top:171px">0.7185</div>
<div class="t ax" style="top:206px">0.7145</div>
<div class="t ax" style="top:241px">0.7105</div>
<div class="t ax" style="top:276px">0.7065</div>
<div class="t ax" style="top:311px">0.7025</div>
<div class="t ax" style="top:346px">0.6985</div>
<div class="t ax" style="top:416px">0.6905</div>
<div class="t ax" style="top:451px">0.6865</div>
<div class="t ax" style="top:486px">0.6825</div>
<div class="t ax" style="top:521px">0.6785</div>
<div class="t ax" style="top:556px">0.6745</div>
<div class="t ax" style="left:1326px;top:571px">100</div>
<div class="t ax" style="left:1326px;top:586px">70</div>
<div class="t ax" style="left:1326px;top:615px">30</div>
<div class="t ax" style="left:1326px;top:631px">0</div>
<div class="t fib" style="top:147px">100 @ 0.7206</div>
<div class="t fib" style="top:191px">88.2 @ 0.7156</div>
<div class="t fib" style="top:227px">78.6 @ 0.7115</div>
<div class="t fib" style="top:289px">61.8 @ 0.7043</div>
<div class="t fib" style="top:333px">50 @ 0.6993</div>
<div class="t fib" style="top:377px">38.2 @ 0.6942</div>
<div class="t fib" style="top:432px">23.6 @ 0.6880</div>
<div class="t fib" style="top:476px">11.8 @ 0.6830</div>
<div class="t fib" style="top:520px">0 @ 0.6779</div>
<div class="tag" style="top:229px;background:#ff0000"><span>0.7115</span></div>
<div class="tag" style="top:294px;background:#ff0000"><span>0.7041</span></div>
<div class="tag" style="top:336px;background:#ff0000"><span>0.6993</span></div>
<div class="tag" style="top:381px;background:#000"><span>0.6942</span></div>
<div class="tag" style="top:408px;background:#000"><span>0.6912</span></div>
<div class="tag" style="top:435px;background:#006400"><span>0.6880</span></div>
<div class="tag" style="top:479px;background:#006400"><span>0.6830</span></div>
<div class="tag" style="top:523px;background:#006400"><span>0.6779</span></div>
<div class="t dt" style="left:2.5px;letter-spacing:-0.32px">25 Sep 2017</div>
<div class="t dt" style="left:66.5px;letter-spacing:-0.25px">27 Sep 16:00</div>
<div class="t dt" style="left:130.5px;letter-spacing:-0.2px">2 Oct 08:00</div>
<div class="t dt" style="left:194.5px;letter-spacing:-0.2px">5 Oct 00:00</div>
<div class="t dt" style="left:258.5px;letter-spacing:-0.2px">9 Oct 16:00</div>
<div class="t dt" style="left:322.5px;letter-spacing:-0.07px">12 Oct 08:00</div>
<div class="t dt" style="left:386.5px;letter-spacing:-0.07px">17 Oct 00:00</div>
<div class="t dt" style="left:450.5px;letter-spacing:-0.07px">19 Oct 16:00</div>
<div class="t dt" style="left:514.5px;letter-spacing:-0.07px">24 Oct 08:00</div>
<div class="t dt" style="left:578.5px;letter-spacing:-0.07px">27 Oct 00:00</div>
<div class="t dt" style="left:642.5px;letter-spacing:-0.07px">31 Oct 16:00</div>
<div class="t dt" style="left:706.5px;letter-spacing:-0.06px">3 Nov 08:00</div>
<div class="t dt" style="left:770.5px;letter-spacing:-0.06px">8 Nov 00:00</div>
<div class="t dt" style="left:834.5px;letter-spacing:-0.06px">10 Nov 16:00</div>
<div class="t dt" style="left:898.5px;letter-spacing:-0.06px">15 Nov 08:00</div>
<div class="t dt" style="left:962.5px;letter-spacing:-0.06px">20 Nov 00:00</div>
<div class="t dt" style="left:1026.5px;letter-spacing:-0.06px">22 Nov 16:00</div>
<div class="t dt" style="left:1090.5px;letter-spacing:-0.06px">27 Nov 08:00</div>
<div id="wm"><span id="w1" style="left:10px;top:4px;font-size:22px;line-height:26px;-webkit-text-stroke:0.25px #fff">[</span><span id="w2" style="left:28px;top:3px;font-size:24px;line-height:28px;letter-spacing:-0.55px">www.</span><span id="w3" style="left:81px;top:3px;font-size:24px;line-height:28px;letter-spacing:-0.95px">instaforex</span><span id="w4" style="left:172.5px;top:10px;font-size:17px;line-height:20px;letter-spacing:-1.05px">.com</span><span id="w5" style="left:208.5px;top:9.5px;font-size:15px;line-height:20px">]</span></div>
</body></html>
